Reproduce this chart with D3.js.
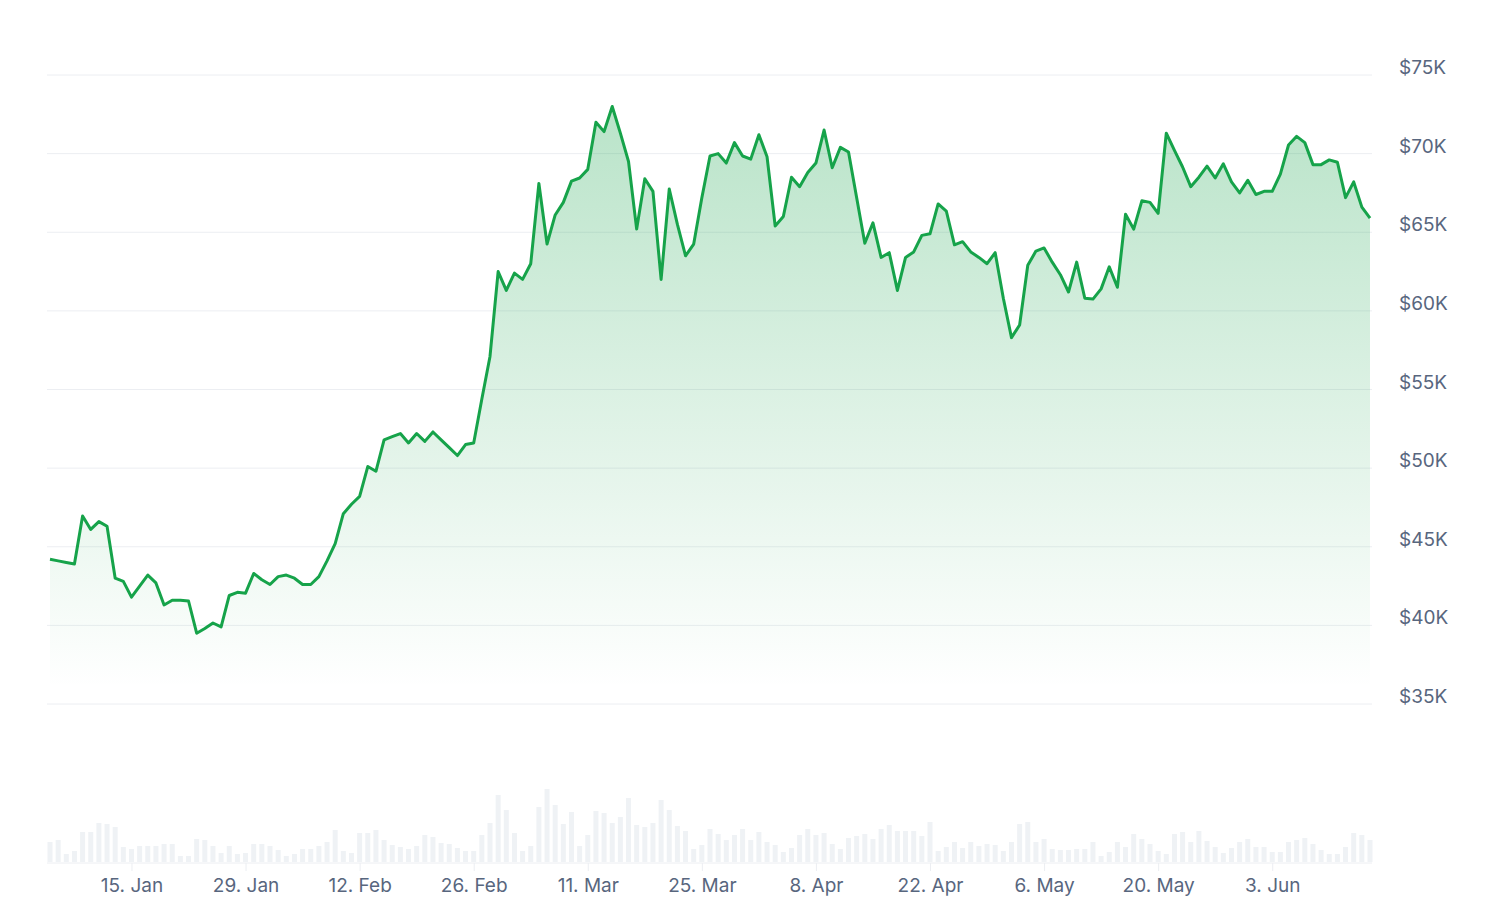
<!DOCTYPE html>
<html>
<head>
<meta charset="utf-8">
<script src="https://cdn.jsdelivr.net/npm/d3@7"></script>
<style>
  body { margin: 0; background: #fff; }
  svg { display: block; font-family: Inter, "Noto Sans", sans-serif; }
</style>
</head>
<body>
<svg id="chart" width="1500" height="914"></svg>
<script>
// daily closing price in $K, starting 5 Jan 2024
const startDate = new Date(2024, 0, 5);
const prices = [
  44.2, 44.1, 44.0, 43.9, 46.95, 46.1, 46.6, 46.3, 43.0, 42.8, 41.8, 42.5, 43.2, 42.7,
  41.3, 41.6, 41.6, 41.55, 39.5, 39.8, 40.15, 39.9, 41.9, 42.1, 42.05, 43.3, 42.9, 42.6,
  43.1, 43.2, 43.0, 42.6, 42.6, 43.1, 44.1, 45.2, 47.1, 47.7, 48.2, 50.1, 49.8, 51.8,
  52.0, 52.2, 51.6, 52.2, 51.7, 52.3, 51.8, 51.3, 50.8, 51.5, 51.6, 54.4, 57.1, 62.5,
  61.3, 62.4, 62.0, 63.0, 68.1, 64.25, 66.1, 66.9, 68.25, 68.45, 69.0, 72.0, 71.4, 73.0,
  71.3, 69.5, 65.2, 68.4, 67.6, 62.0, 67.75, 65.5, 63.5, 64.25, 67.2, 69.85, 70.0, 69.4,
  70.7, 69.85, 69.65, 71.2, 69.8, 65.4, 66.0, 68.5, 67.9, 68.8, 69.4, 71.5, 69.1, 70.4,
  70.1, 67.2, 64.3, 65.6, 63.4, 63.7, 61.3, 63.4, 63.75, 64.8, 64.9, 66.8, 66.35, 64.2,
  64.4, 63.75, 63.4, 63.0, 63.7, 60.8, 58.3, 59.1, 62.9, 63.8, 64.0, 63.1, 62.3, 61.2,
  63.1, 60.8, 60.75, 61.4, 62.8, 61.5, 66.15, 65.2, 67.0, 66.9, 66.2, 71.3, 70.2, 69.15,
  67.9, 68.5, 69.2, 68.45, 69.35, 68.2, 67.5, 68.3, 67.4, 67.6, 67.6, 68.7, 70.55, 71.1,
  70.7, 69.3, 69.3, 69.6, 69.45, 67.2, 68.2, 66.6, 65.9
];
// daily volume, $B (estimated)
const volumes = [
  20, 22, 8, 11, 30, 30, 39, 38, 35, 15, 13, 16, 16, 16,
  18, 18, 6, 6, 23, 22, 16, 9, 16, 8, 9, 18, 18, 16,
  12, 6, 8, 13, 13, 16, 20, 32, 11, 9, 29, 29, 32, 22,
  17, 15, 13, 16, 27, 25, 19, 18, 14, 11, 11, 27, 39, 67,
  52, 29, 11, 16, 55, 73, 57, 38, 50, 16, 27, 51, 49, 39,
  45, 64, 37, 35, 39, 62, 52, 36, 31, 13, 17, 33, 28, 22,
  27, 33, 22, 30, 20, 17, 10, 14, 27, 33, 27, 29, 18, 13,
  24, 26, 28, 23, 33, 37, 31, 31, 31, 26, 40, 11, 15, 20,
  14, 20, 16, 18, 17, 11, 20, 38, 40, 20, 23, 13, 12, 12,
  13, 13, 20, 6, 10, 20, 15, 28, 23, 18, 11, 8, 28, 30,
  20, 31, 21, 15, 9, 14, 20, 23, 15, 15, 10, 10, 20, 22,
  24, 18, 12, 8, 8, 15, 29, 27, 22
];
const yTicks = [35, 40, 45, 50, 55, 60, 65, 70, 75];
const xTickDates = ["2024-01-15", "2024-01-29", "2024-02-12", "2024-02-26", "2024-03-11",
  "2024-03-25", "2024-04-08", "2024-04-22", "2024-05-06", "2024-05-20", "2024-06-03"];

const data = prices.map((p, i) => ({
  date: d3.timeDay.offset(startDate, i),
  price: p,
  volume: volumes[i]
}));

const svg = d3.select("#chart");
const plotLeft = 47, plotRight = 1372;

const x = d3.scaleTime()
  .domain([data[0].date, data[data.length - 1].date])
  .range([50, 1370]);
const y = d3.scaleLinear().domain([35, 75]).range([704, 75]);
const yVol = d3.scaleLinear().domain([0, 80]).range([862, 782]);

// gradient
const grad = svg.append("defs").append("linearGradient")
  .attr("id", "areaGrad").attr("x1", 0).attr("y1", 0).attr("x2", 0).attr("y2", 1)
  .attr("gradientUnits", "userSpaceOnUse")
  .attr("x1", 0).attr("y1", y(73)).attr("x2", 0).attr("y2", y(36));
grad.append("stop").attr("offset", "0%").attr("stop-color", "#16a34a").attr("stop-opacity", 0.3);
grad.append("stop").attr("offset", "100%").attr("stop-color", "#16a34a").attr("stop-opacity", 0.0);

// grid
svg.append("g").selectAll("line").data(yTicks).join("line")
  .attr("x1", plotLeft).attr("x2", plotRight)
  .attr("y1", d => y(d)).attr("y2", d => y(d))
  .attr("stroke", "#eceef2").attr("stroke-width", 1);

svg.append("g").selectAll("text").data(yTicks).join("text")
  .attr("x", 1399).attr("y", d => y(d) - 1)
  .attr("font-size", 19).attr("fill", "#58667e")
  .text(d => "$" + d + "K");

// volume bars
svg.append("g").selectAll("rect").data(data).join("rect")
  .attr("x", d => x(d.date) - 2.5).attr("width", 5)
  .attr("y", d => yVol(d.volume))
  .attr("height", d => yVol(0) - yVol(d.volume))
  .attr("fill", "#eff2f5");

// x axis
svg.append("line").attr("x1", plotLeft).attr("x2", plotRight)
  .attr("y1", 863).attr("y2", 863).attr("stroke", "#eceef2");
const xAxis = d3.axisBottom(x)
  .tickValues(xTickDates.map(s => d3.timeParse("%Y-%m-%d")(s)))
  .tickFormat(d3.timeFormat("%-d. %b"))
  .tickSize(8).tickPadding(8);
const gx = svg.append("g").attr("transform", "translate(0,863)").call(xAxis);
gx.select(".domain").remove();
gx.selectAll("line").attr("stroke", "#eceef2");
gx.selectAll("text").attr("font-size", 19).attr("fill", "#58667e")
  .attr("font-family", "Inter, 'Noto Sans', sans-serif");

// area + line
svg.append("path").datum(data)
  .attr("d", d3.area().x(d => x(d.date)).y0(y(35)).y1(d => y(d.price)))
  .attr("fill", "url(#areaGrad)");
svg.append("path").datum(data)
  .attr("d", d3.line().x(d => x(d.date)).y(d => y(d.price)))
  .attr("fill", "none").attr("stroke", "#16a34a").attr("stroke-width", 3)
  .attr("stroke-linejoin", "round");
</script>
</body>
</html>
